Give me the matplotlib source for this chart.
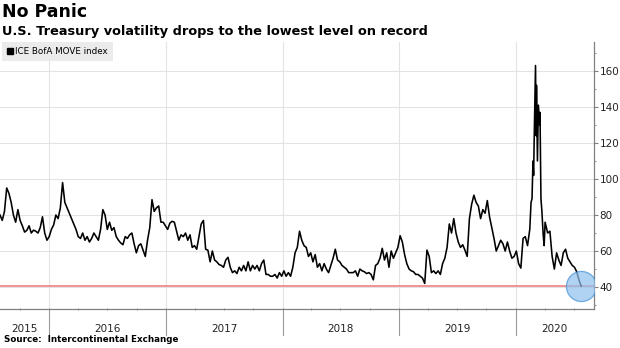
import matplotlib
matplotlib.use("Agg")
import matplotlib.pyplot as plt
import matplotlib.dates as mdates
import matplotlib.transforms as mtransforms
from matplotlib.lines import Line2D
import pandas as pd

# ICE BofA MOVE index, weekly closes from 2015-07-31 through 2020-02-07
move_weekly = [
    80, 77, 82, 95, 92, 87, 80, 76, 83, 77, 74, 70.5, 71.5, 74, 70, 71.6, 71, 70, 73, 79,
    70, 66, 68, 72, 74.5, 80, 78, 84, 98, 87, 84, 81, 78, 75, 72, 68, 67, 70, 66, 68,
    65, 67, 70, 68, 66, 72, 83, 80, 72, 76, 71.5, 73, 68, 66, 64.5, 63.5, 68, 67, 69, 70,
    64, 59, 63, 64, 60.5, 57, 66, 73, 88.5, 82, 84, 85, 76, 76, 74, 72, 75.5, 76.5, 76, 71,
    66, 69, 68, 70, 66, 69, 62, 63, 61, 68, 75, 77, 61, 60.5, 54, 60, 55, 54, 52.5, 52,
    51, 55, 56.5, 51, 48, 49, 47.5, 51, 49, 52, 49, 54, 49, 52, 50, 52, 49, 53, 55, 47,
    47, 46, 46, 47, 45, 48, 46, 49, 46, 48, 46, 51, 59, 62, 71, 66, 63, 62, 57, 59,
    54, 58, 51, 53, 49, 53, 50, 48, 52, 56, 61, 55, 54, 52, 51, 50, 48, 48, 48, 49,
    46, 50, 49, 48.5, 47.5, 48, 47, 44, 52, 53, 56, 61.5, 55, 59, 51, 60, 56, 59, 62, 68.5,
    65, 58, 53, 50, 49, 48.5, 47, 47, 46, 45, 42, 60.5, 57, 48, 49, 47.5, 49, 47, 53, 56,
    62, 75, 70, 78, 70, 65, 62, 63.5, 60.5, 57, 78, 86, 91, 87, 85, 78, 83, 81, 88, 79,
    73, 67, 60, 63, 66, 64, 60, 65, 60, 56, 57, 60, 53, 50.5, 67, 68, 63,
]

# March 2020 turmoil, daily-ish readings
crisis_dates = [
    "2020-02-14", "2020-02-18", "2020-02-21", "2020-02-24", "2020-02-26", "2020-02-28",
    "2020-03-03", "2020-03-05", "2020-03-06", "2020-03-09", "2020-03-12", "2020-03-16",
    "2020-03-17", "2020-03-20", "2020-03-23", "2020-03-27", "2020-03-30", "2020-04-02",
]
crisis_values = [72, 87, 89, 110, 102, 124, 163, 124, 152, 110, 141, 130, 137, 89, 82, 69, 63, 76]

# weekly again from 2020-04-10 to 2020-07-24
move_recent = [70, 71, 57, 50, 59, 55, 52, 59, 61, 56, 54, 52, 51, 48.5, 44, 40.5]

record_low = 40.5
years = [2015, 2016, 2017, 2018, 2019, 2020]
y_ticks = [40, 60, 80, 100, 120, 140, 160]

weekly = pd.Series(move_weekly,
                   index=pd.date_range("2015-07-31", periods=len(move_weekly), freq="W-FRI"))
crisis = pd.Series(crisis_values, index=pd.to_datetime(crisis_dates))
recent = pd.Series(move_recent,
                   index=pd.date_range("2020-04-10", periods=len(move_recent), freq="W-FRI"))
move = pd.concat([weekly, crisis, recent]).sort_index()

fig = plt.figure(figsize=(6.2, 3.48), dpi=100)
ax = fig.add_axes([0.0, 0.112, 0.958, 0.767])

x0, x1 = pd.Timestamp("2015-07-31"), pd.Timestamp("2020-09-02")
ax.set_xlim(x0, x1)
ax.set_ylim(27.8, 176)

grid_col = "#e3e3e3"
for v in y_ticks:
    ax.axhline(v, color=grid_col, lw=0.8, zorder=0)
for yr in years[1:]:
    ax.axvline(pd.Timestamp(f"{yr}-01-01"), color=grid_col, lw=0.8, zorder=0)

ax.axhline(record_low, color="#f08a8a", lw=1.3, zorder=1)
ax.plot(move.index, move.values, color="black", lw=1.15, zorder=2)
ax.scatter([move.index[-1]], [move.values[-1]], s=470, color="#8fc1ef",
           edgecolor="#3f8fd6", linewidth=0.9, alpha=0.7, zorder=3)

# axes styling
for side in ("top", "left"):
    ax.spines[side].set_visible(False)
for side in ("right", "bottom"):
    ax.spines[side].set_color("#808080")
    ax.spines[side].set_linewidth(0.9)

ax.yaxis.tick_right()
ax.set_yticks(y_ticks)
ax.set_yticks(range(30, 176, 10), minor=True)
ax.tick_params(axis="y", which="major", length=3, width=0.8, color="#808080",
               labelsize=7.5, pad=1, labelcolor="#222222")
ax.tick_params(axis="y", which="minor", length=1.5, width=0.6, color="#808080")

ax.xaxis.set_major_locator(mdates.MonthLocator(bymonth=[1, 4, 7, 10]))
ax.xaxis.set_major_formatter(plt.NullFormatter())
ax.tick_params(axis="x", which="major", length=2, width=0.6, color="#808080",
               direction="inout")

# year separators and centred year labels under the axis
trans = mtransforms.blended_transform_factory(ax.transData, ax.transAxes)
for yr in years:
    start = max(pd.Timestamp(f"{yr}-01-01"), x0)
    end = min(pd.Timestamp(f"{yr + 1}-01-01"), x1)
    if yr > years[0]:
        ax.plot([start, start], [0, -0.098], transform=trans, color="#9a9a9a",
                lw=0.8, clip_on=False)
    mid = start + (end - start) / 2
    ax.text(mid, -0.075, str(yr), transform=trans, ha="center", va="center",
            fontsize=7.5, color="#222222")

leg = ax.legend(handles=[Line2D([], [], marker="s", color="black", linestyle="none",
                                markersize=4.5)],
                labels=["ICE BofA MOVE index"], loc="upper left",
                bbox_to_anchor=(0.003, 1.0), frameon=True, fancybox=False,
                facecolor="#ebebeb", edgecolor="none", framealpha=1,
                fontsize=6.3, handlelength=0.7, handletextpad=0.3,
                borderpad=0.55, borderaxespad=0.0)

fig.text(0.004, 0.99, "No Panic", fontsize=12.5, fontweight="bold", va="top", ha="left")
fig.text(0.004, 0.927, "U.S. Treasury volatility drops to the lowest level on record",
         fontsize=9.3, fontweight="bold", va="top", ha="left")
fig.text(0.006, 0.012, "Source:  Intercontinental Exchange", fontsize=6.3,
         fontweight="bold", va="bottom", ha="left")

fig.savefig("out.png", dpi=100)
